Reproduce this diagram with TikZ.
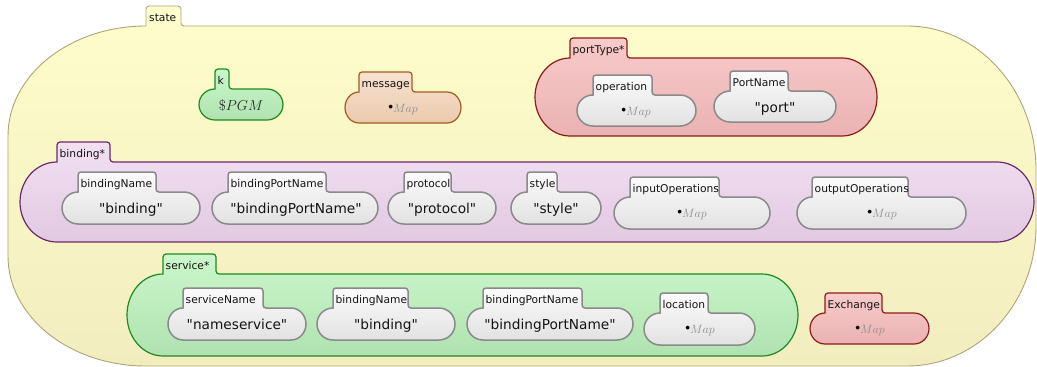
\documentclass[tikz,border=0pt]{standalone}
\usepackage{fontspec}
\usepackage{graphicx}
\newfontfamily\dv{DejaVu Sans}
\definecolor{stTop}{HTML}{FFFDCC}\definecolor{stBot}{HTML}{F2EDBF}\definecolor{stLine}{HTML}{ADA577}
\definecolor{grTop}{HTML}{CBF7CB}\definecolor{grBot}{HTML}{B0E2B0}\definecolor{grLine}{HTML}{1F8A1F}
\definecolor{msTop}{HTML}{F8E2D0}\definecolor{msBot}{HTML}{EACAAD}\definecolor{msLine}{HTML}{A55A1E}
\definecolor{rdTop}{HTML}{F8CACA}\definecolor{rdBot}{HTML}{EBB2B2}\definecolor{rdLine}{HTML}{8C1C1C}
\definecolor{puTop}{HTML}{F2E0F2}\definecolor{puBot}{HTML}{E2C9E2}\definecolor{puLine}{HTML}{6B2B6B}
\definecolor{gyTop}{HTML}{FBFBFB}\definecolor{gyBot}{HTML}{E2E2E2}\definecolor{gyLine}{HTML}{8A8A8A}
\definecolor{mapgray}{HTML}{8C8C8C}
\definecolor{txt}{HTML}{141414}
\tikzset{
  statecell/.style={draw=stLine, line width=0.9pt, top color=stTop, bottom color=stBot},
  greencell/.style={draw=grLine, line width=1.2pt, top color=grTop, bottom color=grBot},
  msgcell/.style={draw=msLine, line width=1.2pt, top color=msTop, bottom color=msBot},
  redcell/.style={draw=rdLine, line width=1.2pt, top color=rdTop, bottom color=rdBot},
  purcell/.style={draw=puLine, line width=1.2pt, top color=puTop, bottom color=puBot},
  graycell/.style={draw=gyLine, line width=1.5pt, top color=gyTop, bottom color=gyBot},
  tablbl/.style={anchor=base west, inner sep=0pt, text=txt, font=\dv\fontsize{10.7}{12}\selectfont},
  val/.style={anchor=base, inner sep=0pt, text=txt, font=\dv\fontsize{13.7}{15}\selectfont},
  mapval/.style={anchor=base, inner sep=0pt, font=\fontsize{11.5}{13}\selectfont},
}
% #1 name, #2 style, #3 L, #4 tab left, #5 tab right, #6 R, #7 T, #8 B, #9 label
\newcommand\kcell[9]{%
  \pgfmathsetmacro\cRX{#4-#3}%
  \pgfmathsetmacro\cRY{(#8-#7)/2}%
  \pgfmathsetmacro\cTT{#7-20}%
  \path[#2] (#4,#7) -- (#4,\cTT+3) arc[start angle=180,end angle=270,radius=3]
    -- (#5-3,\cTT) arc[start angle=270,end angle=360,radius=3]
    -- (#5,#7-3) arc[start angle=180,end angle=90,radius=3]
    -- (#6-\cRX,#7) arc[start angle=270,end angle=360,x radius=\cRX,y radius=\cRY]
    -- (#6,#8-\cRY) arc[start angle=0,end angle=90,x radius=\cRX,y radius=\cRY]
    -- (#3+\cRX,#8) arc[start angle=90,end angle=180,x radius=\cRX,y radius=\cRY]
    -- (#3,#7+\cRY) arc[start angle=180,end angle=270,x radius=\cRX,y radius=\cRY]
    -- cycle;
  \node[tablbl] (#1) at (#4+2.5,#7-5) {#9};
}
\newcommand\emptymap{\raisebox{.42ex}{\scalebox{.8}{$\bullet$}}\textcolor{mapgray}{$Map$}}
\begin{document}
\begin{tikzpicture}[x=1pt,y=-1pt]
\useasboundingbox (0,0) rectangle (1037,367);
% state
\path[statecell] (146,26) -- (146,9) arc[start angle=180,end angle=270,radius=3]
  -- (178,6) arc[start angle=270,end angle=360,radius=3]
  -- (181,23) arc[start angle=180,end angle=90,radius=3]
  -- (907,26) arc[start angle=270,end angle=360,x radius=129,y radius=144]
  -- (1036,226) arc[start angle=0,end angle=90,x radius=129,y radius=140]
  -- (146,366) arc[start angle=90,end angle=180,x radius=138,y radius=110]
  -- (8,136) arc[start angle=180,end angle=270,x radius=138,y radius=110]
  -- cycle;
\node[tablbl] (state) at (149,21) {state};
% top row
\kcell{k}{greencell}{199}{215}{229}{283}{89}{120}{k}
\node[anchor=base, inner sep=0pt, text=black!85, font=\fontsize{15}{17}\selectfont] (k-v) at (241,110) {$\$PGM$};
\kcell{message}{msgcell}{345}{359}{412}{461}{92}{123}{message}
\node[mapval] (message-v) at (403,112) {\emptymap};
\kcell{portType}{redcell}{535}{570}{627}{877}{58}{136}{portType*}
\kcell{operation}{graycell}{577}{593}{652}{696}{95}{126}{operation}
\node[mapval] (operation-v) at (636,115) {\emptymap};
\kcell{PortName}{graycell}{714}{730}{788}{836}{91}{122}{PortName}
\node[val] (PortName-v) at (775,112) {"port"};
% binding
\kcell{binding}{purcell}{20}{57}{110}{1034}{162}{242}{binding*}
\kcell{bindingName}{graycell}{62}{78}{156}{200}{192}{224}{bindingName}
\node[val] (bindingName-v) at (131,213) {"binding"};
\kcell{bindingPortName}{graycell}{212}{228}{326}{378}{192}{224}{bindingPortName}
\node[val] (bindingPortName-v) at (296,213) {"bindingPortName"};
\kcell{protocol}{graycell}{388}{404}{451}{496}{192}{224}{protocol}
\node[val] (protocol-v) at (442,213) {"protocol"};
\kcell{style}{graycell}{511}{527}{557}{601}{192}{224}{style}
\node[val] (style-v) at (556,213) {"style"};
\kcell{inputOperations}{graycell}{614}{630}{719}{770}{197}{229}{inputOperations}
\node[mapval] (inputOperations-v) at (692,217) {\emptymap};
\kcell{outputOperations}{graycell}{797}{812}{908}{966}{197}{229}{outputOperations}
\node[mapval] (outputOperations-v) at (882,217) {\emptymap};
% service
\kcell{service}{greencell}{127}{163}{216}{798}{274}{356}{service*}
\kcell{serviceName}{graycell}{168}{183}{263}{306}{308}{340}{serviceName}
\node[val] (serviceName-v) at (237,329) {"nameservice"};
\kcell{bindingName2}{graycell}{317}{333}{408}{455}{308}{340}{bindingName}
\node[val] (bindingName2-v) at (386,329) {"binding"};
\kcell{bindingPortName2}{graycell}{467}{483}{582}{633}{308}{340}{bindingPortName}
\node[val] (bindingPortName2-v) at (550,329) {"bindingPortName"};
\kcell{location}{graycell}{644}{660}{708}{755}{313}{345}{location}
\node[mapval] (location-v) at (700,333) {\emptymap};
\kcell{Exchange}{redcell}{810}{825}{882}{929}{313}{344}{Exchange}
\node[mapval] (Exchange-v) at (870,333) {\emptymap};
\end{tikzpicture}
\end{document}
